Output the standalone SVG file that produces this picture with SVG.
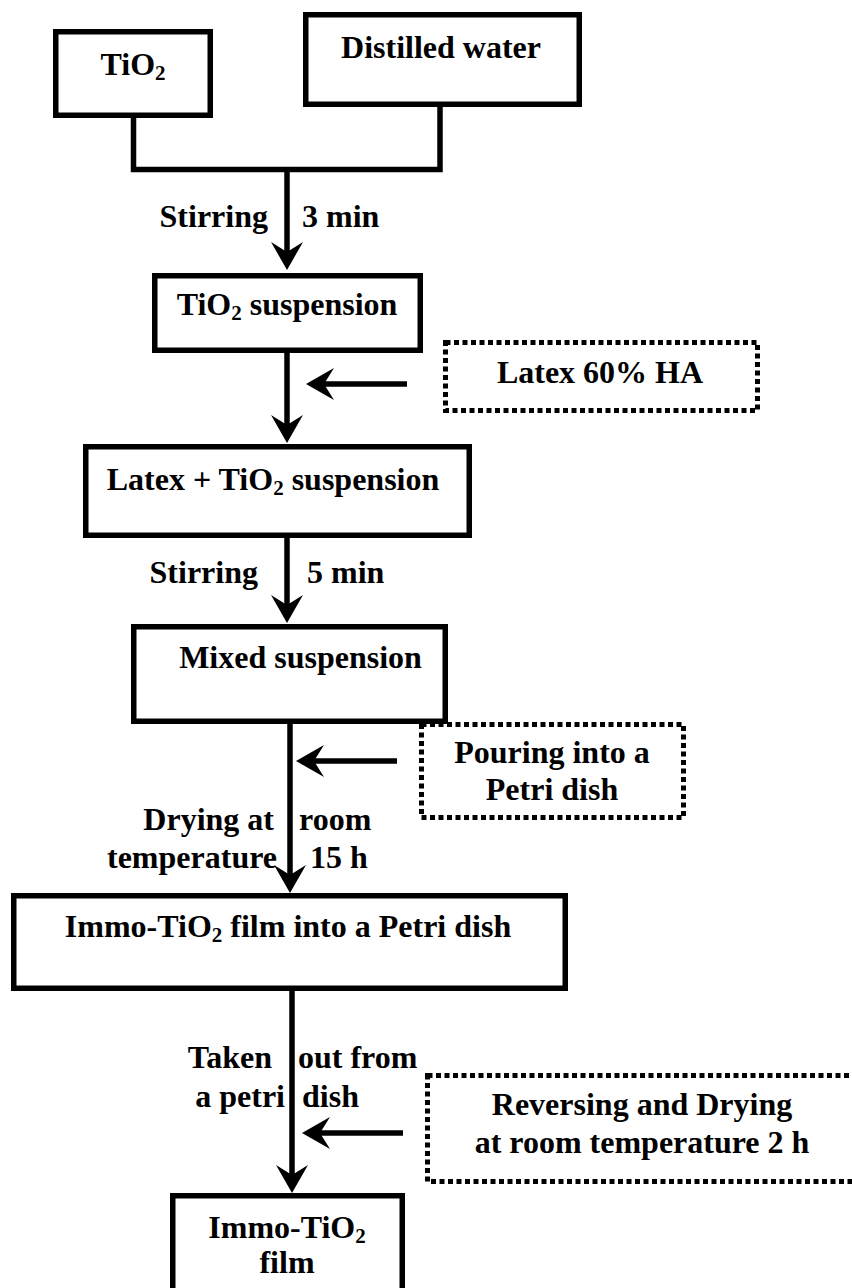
<svg xmlns="http://www.w3.org/2000/svg" width="852" height="1288" viewBox="0 0 852 1288">
<style>
  text { font-family: "Liberation Serif", "Times New Roman", serif; font-weight: bold; font-size: 32px; fill: #000; }
  .c { text-anchor: middle; }
  .e { text-anchor: end; }
  .box { fill: #fff; stroke: #000; stroke-width: 5.5; }
  .dot { fill: #fff; stroke: #000; stroke-width: 5; stroke-dasharray: 5 3.5; }
  .ln { fill: none; stroke: #000; stroke-width: 5.5; }
  .ar { fill: none; stroke: #000; stroke-width: 5.5; marker-end: url(#ah); }
  .sub { font-size: 21px; }
</style>
<defs>
  <marker id="ah" markerUnits="userSpaceOnUse" markerWidth="30" markerHeight="34" refX="10" refY="17" orient="auto" overflow="visible">
    <path d="M0,1 L28,17 L0,33 L10,17 Z" fill="#000"/>
  </marker>
</defs>
<rect width="852" height="1288" fill="#fff"/>

<g id="connectors">
  <path class="ln" d="M133.5,118 V169.5 M440,107 V169.5 M130.75,169.5 H442.75"/>
  <path class="ar" d="M287,167 V252"/>
  <path class="ar" d="M287,353 V425"/>
  <path class="ar" d="M407,384 H324"/>
  <path class="ar" d="M287,538 V605"/>
  <path class="ar" d="M290,724 V875"/>
  <path class="ar" d="M397,761 H314"/>
  <path class="ar" d="M292,991 V1175"/>
  <path class="ar" d="M403,1133 H320"/>
</g>

<g id="labels">
  <text class="e" x="268" y="227">Stirring</text>
  <text x="302" y="227">3 min</text>
  <text class="e" x="258" y="583">Stirring</text>
  <text x="307" y="583">5 min</text>
  <text class="e" x="274" y="830">Drying at</text>
  <text x="299" y="830">room</text>
  <text class="e" x="277" y="868">temperature</text>
  <text x="310" y="868">15 h</text>
  <text class="e" x="272" y="1068">Taken</text>
  <text x="298" y="1068">out from</text>
  <text class="e" x="285" y="1107">a petri</text>
  <text x="302" y="1107">dish</text>
</g>

<g id="tio2">
  <rect class="box" x="55.75" y="31.75" width="154.5" height="83.5"/>
  <text class="c" x="133" y="75">TiO<tspan class="sub" dy="5">2</tspan></text>
</g>
<g id="water">
  <rect class="box" x="305.75" y="14.75" width="273.5" height="89.5"/>
  <text class="c" x="441" y="58">Distilled water</text>
</g>
<g id="tio2-suspension">
  <rect class="box" x="154.75" y="275.75" width="265.5" height="74.5"/>
  <text class="c" x="287" y="315">TiO<tspan class="sub" dy="5">2</tspan><tspan dy="-5"> suspension</tspan></text>
</g>
<g id="latex-ha">
  <rect class="dot" x="445.5" y="342.5" width="312" height="68"/>
  <text class="c" x="600" y="383">Latex 60% HA</text>
</g>
<g id="latex-tio2">
  <rect class="box" x="85.75" y="446.75" width="383.5" height="88.5"/>
  <text class="c" x="273" y="490">Latex + TiO<tspan class="sub" dy="5">2</tspan><tspan dy="-5"> suspension</tspan></text>
</g>
<g id="mixed">
  <rect class="box" x="133.75" y="626.75" width="311.5" height="94.5"/>
  <text class="c" x="300.5" y="668">Mixed suspension</text>
</g>
<g id="pouring">
  <rect class="dot" x="421.5" y="724.5" width="262" height="93"/>
  <text class="c" x="552" y="763">Pouring into a</text>
  <text class="c" x="552" y="800">Petri dish</text>
</g>
<g id="immo-dish">
  <rect class="box" x="13.75" y="895.75" width="551.5" height="92.5"/>
  <text class="c" x="288" y="937">Immo-TiO<tspan class="sub" dy="5">2</tspan><tspan dy="-5"> film into a Petri dish</tspan></text>
</g>
<g id="reversing">
  <rect class="dot" x="427.5" y="1075.5" width="440" height="106"/>
  <text class="c" x="642" y="1115">Reversing and Drying</text>
  <text class="c" x="642" y="1153">at room temperature 2 h</text>
</g>
<g id="immo-film">
  <rect class="box" x="172.75" y="1195.75" width="229.5" height="110"/>
  <text class="c" x="287" y="1238">Immo-TiO<tspan class="sub" dy="5">2</tspan></text>
  <text class="c" x="287" y="1273">film</text>
</g>
</svg>
